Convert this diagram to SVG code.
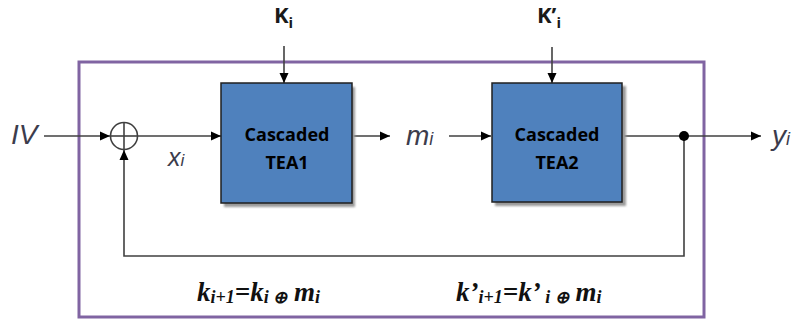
<svg xmlns="http://www.w3.org/2000/svg" width="800" height="322" viewBox="0 0 800 322">
<defs>
<marker id="ah" viewBox="0 0 10 10" refX="10" refY="5" markerWidth="10" markerHeight="10" markerUnits="userSpaceOnUse" orient="auto">
<path d="M0,0.5 L10,5 L0,9.5 Z" fill="#000"/>
</marker>
<filter id="sh" x="-10%" y="-10%" width="130%" height="130%">
<feGaussianBlur stdDeviation="1.2"/>
</filter>
<style>
.conn{fill:none;stroke:#404040;stroke-width:1.6}
.arr{marker-end:url(#ah)}
.box{fill:#4F81BD;stroke:#1F1F1F;stroke-width:1.5}
.shadow{fill:#9A9A9A;filter:url(#sh)}
.btxt{font-family:"Open Sans","Liberation Sans",sans-serif;font-weight:bold;font-size:18px;fill:#000;text-anchor:middle}
.sig{font-family:"Liberation Sans",Arial,sans-serif;font-style:italic;fill:#3C3C4C}
.key{font-family:"Open Sans","Liberation Sans",sans-serif;font-weight:bold;fill:#1A1A1A}
.eq{font-family:"Liberation Serif","Times New Roman",serif;font-weight:bold;font-style:italic;fill:#111;font-size:27px}
</style>
</defs>
<rect x="79" y="62" width="625" height="255" fill="none" stroke="#8064A2" stroke-width="3"/>
<g id="connectors">
<line class="conn arr" x1="44" y1="136" x2="110" y2="136"/>
<line class="conn arr" x1="138" y1="136" x2="221" y2="136"/>
<line class="conn arr" x1="352" y1="136" x2="390" y2="136"/>
<line class="conn arr" x1="449" y1="136" x2="491" y2="136"/>
<line class="conn arr" x1="622" y1="136" x2="761" y2="136"/>
<line class="conn arr" x1="284" y1="46" x2="284" y2="83"/>
<line class="conn arr" x1="552" y1="47" x2="552" y2="83"/>
<polyline class="conn arr" points="684,136 684,256 124,256 124,150"/>
<circle cx="684" cy="136" r="5" fill="#000"/>
</g>
<g id="xor">
<circle cx="124" cy="136" r="13.5" fill="none" stroke="#404040" stroke-width="1.6"/>
<line class="conn" x1="110.5" y1="136" x2="137.5" y2="136"/>
<line class="conn" x1="124" y1="122.5" x2="124" y2="149.5"/>
</g>
<g id="tea1">
<rect class="shadow" x="224" y="87" width="131" height="120"/>
<rect class="box" x="221" y="83" width="131" height="120"/>
<text class="btxt" x="287" y="141">Cascaded</text>
<text class="btxt" x="287" y="169">TEA1</text>
</g>
<g id="tea2">
<rect class="shadow" x="495" y="86" width="131" height="120"/>
<rect class="box" x="492" y="83" width="130" height="119"/>
<text class="btxt" x="557" y="141">Cascaded</text>
<text class="btxt" x="557" y="169">TEA2</text>
</g>
<g id="labels">
<text class="sig" x="11" y="144" font-size="28">IV</text>
<text class="sig" x="168" y="166" font-size="25">x<tspan font-size="17">i</tspan></text>
<text class="sig" x="406" y="145" font-size="28">m<tspan font-size="18">i</tspan></text>
<text class="sig" x="772" y="145" font-size="28">y<tspan font-size="18">i</tspan></text>
<text class="key" x="274" y="23" font-size="22">K<tspan font-size="15" dy="5">i</tspan></text>
<text class="key" x="537" y="23" font-size="22">K’<tspan font-size="15" dy="5">i</tspan></text>
</g>
<g id="equations">
<text class="eq" x="197" y="301">k<tspan font-size="18" dy="2">i+1</tspan><tspan dy="-2">=k</tspan><tspan font-size="18" dy="2">i </tspan><tspan font-size="17" dy="0">⊕</tspan><tspan dy="-2"> m</tspan><tspan font-size="18" dy="2">i</tspan></text>
<text class="eq" x="456" y="301">k’<tspan font-size="18" dy="2">i+1</tspan><tspan dy="-2">=k’</tspan><tspan font-size="18" dy="2"> i </tspan><tspan font-size="17" dy="0">⊕</tspan><tspan dy="-2"> m</tspan><tspan font-size="18" dy="2">i</tspan></text>
</g>
</svg>
